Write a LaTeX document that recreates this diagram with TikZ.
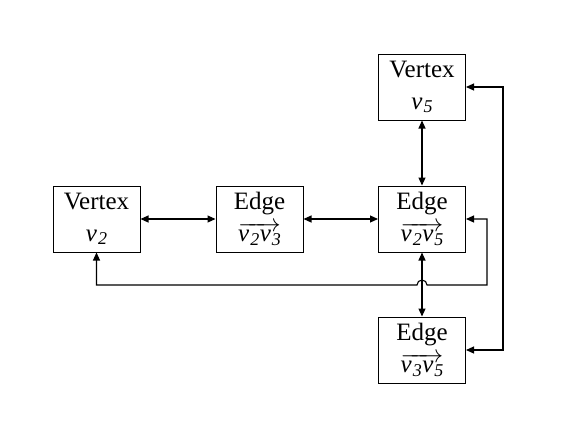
\documentclass[tikz,border=0pt]{standalone}
\usepackage{fontspec}
\setmainfont{Liberation Serif}
\usetikzlibrary{arrows.meta}
\newcommand{\vsub}[1]{\textit{v}\kern0.04em\raisebox{-0.28ex}{\fontsize{18}{18}\selectfont\textit{#1}}}
\newcommand{\vecpair}[2]{\ensuremath{\overrightarrow{\hbox{\vsub{#1}\kern0.02em\vsub{#2}}}}}
\begin{document}
\begin{tikzpicture}[x=1pt,y=-1pt,
  box/.style={draw, line width=1pt, minimum width=87pt, minimum height=66pt, inner sep=0pt,
    align=center, font=\fontsize{25}{32}\selectfont},
  conn/.style={line width=1.1pt, {Triangle[length=8pt,width=7pt]}-{Triangle[length=8pt,width=7pt]}}]
\useasboundingbox (0,0) rectangle (583,437);
\node[box] (v2) at (96.5,219) {Vertex\\\vsub{2}};
\node[box] (e23) at (259.5,219) {Edge\\\vecpair{2}{3}};
\node[box] (e25) at (422,219) {Edge\\\vecpair{2}{5}};
\node[box] (v5) at (422,87) {Vertex\\\vsub{5}};
\node[box] (e35) at (422,350) {Edge\\\vecpair{3}{5}};
\draw[conn] (v2) -- (e23);
\draw[conn] (e23) -- (e25);
\draw[conn] (v5) -- (e25);
\draw[conn] (e25) -- (e35);
\coordinate (c1) at (96.5,285);
\coordinate (h1) at (417,285);
\coordinate (c2) at (487,285);
\coordinate (c3) at (487,219);
\draw[conn] (v2.south) -- (c1) -- (h1)
  arc[start angle=180,end angle=0,radius=5pt] -- (c2) -- (c3) -- (e25.east);
\coordinate (r1) at (503,87);
\coordinate (r2) at (503,350);
\draw[conn] (v5.east) -- (r1) -- (r2) -- (e35.east);
\end{tikzpicture}
\end{document}
